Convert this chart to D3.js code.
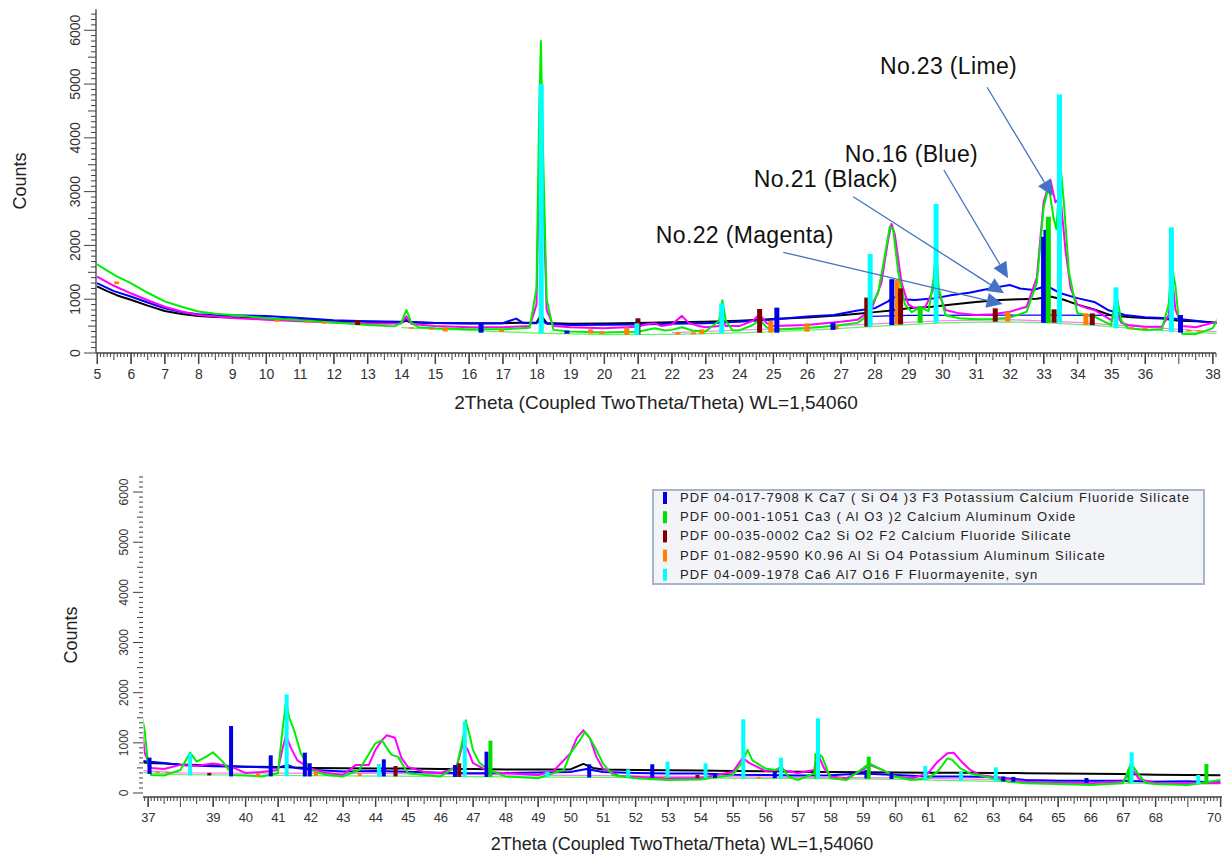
<!DOCTYPE html>
<html>
<head>
<meta charset="utf-8">
<script src="https://cdn.jsdelivr.net/npm/d3@7"></script>
<style>
  body { margin: 0; background: #fff; }
  svg { display: block; font-family: Arial, "Liberation Sans", sans-serif; }
</style>
</head>
<body>
<svg id="chart" width="1223" height="854"></svg>
<script>
// ---- Measured scans: [2Theta, counts] ----
const scanNo21Black = [[5,1240],[5.3,1150],[5.6,1070],[6,990],[6.5,880],[7,780],[7.5,725],[8,690],[8.5,670],[9,660],[10,640],[11,615],[12,595],[13,580],[14,570],[14.15,600],[14.3,565],[15,560],[16,555],[17,555],[18,565],[18.13,700],[18.3,560],[19,545],[20,550],[21,560],[22,570],[23,580],[24,600],[25,630],[26,660],[27,700],[27.5,730],[28,760],[28.5,790],[29,830],[29.7,860],[30.3,900],[31,950],[31.7,985],[32.3,1000],[32.8,1010],[33.2,1050],[33.6,990],[34,900],[34.5,810],[35,700],[35.5,670],[36,650],[36.5,640],[37,600],[37.5,590],[38,570],[39,550],[40,525],[41,520],[42,500],[43,492],[44,490],[45,490],[46,480],[47,480],[48,470],[49,470],[50,470],[50.4,580],[50.7,500],[51,470],[52,460],[53,455],[54,450],[55,440],[56,435],[57,425],[58,420],[59,415],[60,410],[61,405],[62,405],[63,400],[64,395],[65,390],[66,385],[67,380],[68,365],[69,360],[70,355]];

const scanNo16Blue = [[5,1300],[5.5,1150],[6,1050],[6.5,940],[7,830],[7.5,760],[8,720],[8.5,705],[9,700],[10,690],[11,650],[12,610],[13,590],[14,580],[14.1,640],[14.25,580],[15,560],[16,550],[17,555],[17.4,640],[17.6,560],[18,555],[18.13,620],[18.3,545],[19,520],[20,525],[21,530],[22,545],[23,555],[24,580],[25,625],[26,680],[26.8,706],[27.5,790],[28,830],[28.4,960],[28.55,1040],[28.8,1000],[29.2,985],[29.8,1020],[30.3,1080],[30.8,1120],[31.2,1170],[31.6,1220],[32,1265],[32.3,1200],[32.7,1170],[33.1,1250],[33.5,1110],[34,1020],[34.5,950],[34.9,800],[35.4,705],[36,665],[36.5,650],[37,630],[37.5,600],[38,560],[39,535],[40,525],[41,505],[41.3,560],[41.5,505],[42,465],[43,430],[44,440],[45,425],[46,405],[47,395],[48,400],[49,410],[50,420],[50.5,480],[51,420],[52,400],[53,390],[54,390],[55,365],[56,360],[57,350],[58,355],[59,390],[60,360],[61,330],[62,330],[63,320],[64,260],[65,245],[66,245],[67,245],[68,225],[69,235],[70,210]];

const scanNo22Magenta = [[5,1420],[5.5,1250],[6,1110],[6.5,980],[7,860],[7.5,770],[8,706],[8.5,680],[9,650],[10,620],[11,590],[12,565],[13,545],[14,550],[14.15,680],[14.3,540],[15,500],[16,477],[17,480],[17.8,500],[18.0,900],[18.08,3500],[18.13,5100],[18.2,3000],[18.3,800],[18.5,500],[19,477],[20,460],[21,490],[21.3,540],[21.5,550],[21.7,500],[22,530],[22.3,690],[22.5,560],[22.8,500],[23,477],[23.4,500],[23.5,600],[23.6,500],[24,500],[24.4,600],[24.6,720],[24.8,560],[25,500],[26,520],[27,580],[27.5,620],[27.9,800],[28.2,1300],[28.4,2100],[28.5,2400],[28.6,2200],[28.8,1300],[29,900],[29.2,830],[29.5,850],[29.75,1200],[29.82,1600],[29.9,1100],[30.1,800],[30.5,737],[31,706],[31.5,720],[32,768],[32.5,861],[32.8,1400],[33.0,2800],[33.2,3220],[33.35,2800],[33.5,2900],[33.65,1900],[33.8,1200],[34,900],[34.3,830],[34.5,800],[35,613],[35.15,750],[35.3,560],[35.5,520],[36,489],[36.5,489],[36.7,700],[36.8,1400],[36.9,800],[37.1,500],[37.5,480],[38,560],[38.5,540],[39,590],[39.5,540],[40,400],[40.5,420],[41,460],[41.15,900],[41.25,1150],[41.4,900],[41.6,650],[42,490],[42.5,400],[43,360],[43.4,560],[43.8,560],[44,860],[44.2,1050],[44.35,1150],[44.6,1100],[44.8,700],[45,520],[45.5,420],[46,395],[46.5,520],[46.7,1000],[46.85,850],[47,600],[47.5,420],[48,395],[49,360],[49.5,450],[50,790],[50.2,1100],[50.4,1250],[50.6,1100],[50.8,720],[51,490],[51.5,340],[52,325],[53,295],[54,300],[55,420],[55.3,700],[55.5,600],[56,440],[56.5,460],[57,400],[57.5,460],[57.6,800],[57.8,500],[58,330],[58.5,295],[59,460],[59.2,560],[59.6,460],[60,330],[60.5,295],[61,390],[61.3,625],[61.6,790],[61.8,800],[62,650],[62.3,460],[62.6,360],[63,325],[63.5,275],[64,225],[65,205],[66,195],[67,230],[67.3,460],[67.5,280],[68,195],[69,195],[70,200]];

const scanNo23Lime = [[5,1650],[5.3,1530],[5.6,1420],[6,1300],[6.5,1120],[7,960],[7.5,860],[8,770],[8.5,730],[9,705],[10,645],[11,610],[12,565],[13,520],[13.8,495],[14.0,560],[14.15,800],[14.3,560],[14.5,480],[15,460],[16,440],[17,440],[17.8,470],[18.0,1200],[18.08,4500],[18.13,5800],[18.2,3600],[18.3,1000],[18.5,430],[19,400],[20,380],[21,396],[21.5,460],[21.8,420],[22,430],[22.3,480],[22.6,420],[23,400],[23.4,600],[23.5,980],[23.6,600],[23.8,420],[24,420],[24.4,520],[24.6,620],[24.8,480],[25,430],[26,460],[27,520],[27.5,560],[27.8,700],[27.9,900],[28.1,1100],[28.3,1800],[28.45,2350],[28.55,2300],[28.7,1500],[28.9,900],[29.1,760],[29.35,850],[29.6,780],[29.75,1400],[29.82,1950],[29.9,1200],[30.1,700],[30.5,645],[31,626],[31.5,630],[32,657],[32.5,768],[32.8,1300],[33.0,2700],[33.15,3100],[33.3,2500],[33.38,2300],[33.5,3500],[33.6,2800],[33.75,1500],[34,740],[34.5,675],[35,520],[35.15,1100],[35.3,600],[35.5,459],[36,428],[36.5,440],[36.7,900],[36.78,1650],[36.9,1250],[37.0,600],[37.1,360],[37.5,350],[38,458],[38.3,804],[38.5,625],[38.8,724],[39,811],[39.3,625],[39.6,360],[40,350],[40.5,330],[41,392],[41.15,1300],[41.25,1820],[41.35,1500],[41.5,1250],[41.7,800],[42,458],[42.5,360],[43,330],[43.5,458],[44.0,990],[44.2,1050],[44.35,900],[44.5,760],[44.7,720],[45,392],[46,330],[46.5,525],[46.7,1100],[46.78,1450],[46.9,1150],[47.0,860],[47.2,600],[47.5,460],[48,330],[49,295],[49.8,460],[50,790],[50.3,1060],[50.45,1220],[50.6,1090],[50.8,860],[51,590],[51.3,360],[52,295],[53,260],[54,270],[55,360],[55.3,630],[55.45,860],[55.6,650],[56,490],[56.3,460],[56.5,525],[56.7,330],[57,260],[57.5,390],[57.6,790],[57.75,720],[58,295],[58.5,260],[59,490],[59.2,590],[59.5,490],[60,330],[60.5,260],[61,290],[61.3,425],[61.6,690],[61.75,660],[62,490],[62.3,390],[63,295],[63.5,226],[64,193],[65,180],[66,160],[67,193],[67.25,590],[67.45,400],[67.7,200],[68,180],[69,160],[69.6,220],[70,260]];

// ---- Fitted backgrounds: [2Theta, counts] ----
const backgroundLime = [[14,470],[16,420],[18,370],[20,340],[22,345],[24,375],[26,420],[28,495],[30,560],[31.5,580],[33,565],[34.5,515],[36,440],[37,400],[38,365],[42,345],[47,325],[52,305],[57,290],[60,270],[63,230],[67,195],[70,180]];
const backgroundMagenta = [[22,380],[26,470],[28,540],[30,600],[32,620],[34,570],[36,480],[38,400],[44,390],[50,350],[55,320],[60,300],[65,250],[70,220]];
const backgroundBlue = [[27.9,680],[29,700],[33,706],[35,700]];

// ---- Reference patterns (sticks): [2Theta, base counts, top counts] ----
const sticksKCa7 = [[16.36,378,539],[18.9,360,415],[25.11,378,843],[26.77,430,564],[28.51,520,1372],[33.0,563,2160],[33.07,563,2290],[37.05,380,706],[39.56,330,1335],[40.78,330,751],[41.83,330,804],[41.98,330,592],[44.26,330,671],[46.45,320,558],[47.42,320,824],[50.58,310,572],[52.52,305,572],[54.45,300,392],[56.29,295,420],[59.11,290,458],[59.88,280,400],[63.32,230,330],[63.63,225,320],[65.88,200,300]];
const sticksCa3Al2O6 = [[29.35,560,861],[33.14,563,2534],[47.54,320,1043],[57.57,290,791],[59.18,285,724],[67.2,195,480],[69.57,180,578]];
const sticksCa2SiO2F2 = [[12.71,520,613],[21.0,340,645],[24.6,378,818],[27.77,489,1030],[28.77,530,1202],[31.57,582,830],[33.31,563,812],[34.44,520,737],[38.89,350,400],[44.62,330,538],[46.58,320,592],[53.91,300,359]];
const sticksKAlSiO4 = [[5.58,1280,1330],[10.32,580,615],[11.25,560,595],[11.72,545,580],[14.3,450,480],[14.9,430,460],[15.3,400,477],[16.97,390,430],[19.6,360,440],[19.93,350,400],[20.67,335,477],[22.18,340,380],[22.64,345,385],[22.89,350,440],[24.93,378,595],[26.0,396,552],[26.86,440,520],[28.67,530,1357],[31.94,582,768],[34.25,520,737],[35.6,450,480],[36.0,440,470],[37.3,400,430],[37.6,395,425],[40.39,330,392],[42.17,340,425],[43.52,335,392],[52.9,300,340],[55.8,290,320],[58.3,285,320]];
const sticksMayenite = [[18.14,366,5000],[20.97,335,552],[23.48,366,923],[27.87,489,1840],[29.82,563,2770],[33.47,563,4808],[35.14,459,1221],[36.78,396,2336],[38.3,350,791],[41.27,335,1967],[44.11,330,578],[46.75,320,1421],[49.29,315,425],[51.78,310,472],[52.99,305,625],[54.16,300,592],[55.32,295,1469],[56.48,290,704],[57.62,290,1489],[60.92,260,538],[62.02,245,425],[63.09,226,512],[67.27,195,811],[69.32,180,359]];

// ---- Legend entries ----
const legendLabels = [
  "PDF 04-017-7908 K Ca7 ( Si O4 )3 F3 Potassium Calcium Fluoride Silicate",
  "PDF 00-001-1051 Ca3 ( Al O3 )2 Calcium Aluminum Oxide",
  "PDF 00-035-0002 Ca2 Si O2 F2 Calcium Fluoride Silicate",
  "PDF 01-082-9590 K0.96 Al Si O4 Potassium Aluminum Silicate",
  "PDF 04-009-1978 Ca6 Al7 O16 F Fluormayenite, syn"
];

// ---- Axis ticks ----
const xTickLabelsTop = [5,6,7,8,9,10,11,12,13,14,15,16,17,18,19,20,21,22,23,24,25,26,27,28,29,30,31,32,33,34,35,36,38];
const xTickLabelsBottom = [37,39,40,41,42,43,44,45,46,47,48,49,50,51,52,53,54,55,56,57,58,59,60,61,62,63,64,65,66,67,68,70];
const yTickLabels = [0,1000,2000,3000,4000,5000,6000];

// ---- Annotations (data coordinates of the top panel) ----
const annotationText = ["No.23 (Lime)", "No.16 (Blue)", "No.21 (Black)", "No.22 (Magenta)"];
const annotationTextAt = [[28.16,5188],[27.12,3551],[24.43,3087],[21.53,2045]];
const annotationFrom = [[31.33,4941],[30.05,3403],[27.37,2906],[25.3,1872]];
const annotationTo = [[33.27,2919],[31.95,1389],[31.83,1110],[31.79,911]];

// ---- Styles ----
const scans = [
  {data: scanNo21Black, color: "#000000"},
  {data: scanNo16Blue, color: "#0000ff"},
  {data: scanNo22Magenta, color: "#ff00ff"},
  {data: scanNo23Lime, color: "#00ee00"}
];
const stickSets = [
  {data: sticksKAlSiO4, color: "#ff8000"},
  {data: sticksCa2SiO2F2, color: "#800000"},
  {data: sticksKCa7, color: "#0000e6"},
  {data: sticksCa3Al2O6, color: "#00e000"},
  {data: sticksMayenite, color: "#00ffff"}
];
const legendColors = ["#0000e6", "#00e000", "#800000", "#ff8000", "#00ffff"];

const svg = d3.select("#chart");
const axisColor = "#404040";
const labelColor = "#333";
const chartWidth = 1223;

const panels = [
  {id: "top", xDom: [4.97, 38.1], xRange: [96, 1216], yDom: [0, 6390], yRange: [353, 9.3],
   stickW: 5, xLabels: xTickLabelsTop, yAxisLine: true, tickFont: 14, yLabelOff: 16,
   xTickLen: 11, xPad: 5, yTickLen: 12, yMinorLen: 5, yMidLen: 8,
   title: {x: 656, y: 409, size: 19}, counts: {x: 26, y: 181}},
  {id: "bottom", xDom: [36.85, 70.05], xRange: [143, 1222], yDom: [-80, 6300], yRange: [797, 477],
   stickW: 4, xLabels: xTickLabelsBottom, yAxisLine: false, tickFont: 13, yLabelOff: 15,
   xTickLen: 10, xPad: 6, yTickLen: 10, yMinorLen: 4, yMidLen: 6,
   title: {x: 682, y: 850, size: 18}, counts: {x: 77, y: 635}}
];

panels.forEach(p => {
  const x = d3.scaleLinear().domain(p.xDom).range(p.xRange);
  const y = d3.scaleLinear().domain(p.yDom).range(p.yRange);
  p.x = x; p.y = y;
  const g = svg.append("g").attr("class", "panel-" + p.id);

  const clipId = "clip-" + p.id;
  svg.append("clipPath").attr("id", clipId).append("rect")
    .attr("x", p.xRange[0] + 0.5).attr("y", p.yRange[1])
    .attr("width", p.xRange[1] - p.xRange[0]).attr("height", p.yRange[0] - p.yRange[1]);

  const plot = g.append("g").attr("clip-path", `url(#${clipId})`);
  const line = d3.line().x(d => x(d[0])).y(d => y(d[1]));

  // fitted backgrounds
  [[backgroundLime, "#66ee66"], [backgroundMagenta, "#ff77ff"], [backgroundBlue, "#0000ff"]].forEach(([bg, c]) => {
    plot.append("path").datum(bg).attr("d", line).attr("fill", "none")
      .attr("stroke", c).attr("stroke-width", 1.2);
  });

  // measured scans
  scans.forEach(s => {
    plot.append("path").datum(s.data).attr("d", line).attr("fill", "none")
      .attr("stroke", s.color).attr("stroke-width", 2).attr("stroke-linejoin", "round");
  });

  // reference sticks
  stickSets.forEach(s => {
    plot.selectAll(null).data(s.data).join("rect")
      .attr("x", d => x(d[0]) - p.stickW / 2)
      .attr("y", d => y(d[2]))
      .attr("width", p.stickW)
      .attr("height", d => y(d[1]) - y(d[2]))
      .attr("fill", s.color);
  });

  // x axis with minor ticks every 0.1
  const minor = d3.range(Math.ceil(p.xDom[0] * 10), Math.floor(p.xDom[1] * 10) + 1).map(v => v / 10);
  const xAxisG = g.append("g").attr("transform", `translate(0,${p.yRange[0]})`);
  xAxisG.selectAll("line.minor").data(minor).join("line")
    .attr("x1", d => x(d)).attr("x2", d => x(d)).attr("y1", 0)
    .attr("y2", d => Math.abs(d - Math.round(d)) < 1e-6 ? p.xTickLen : (Math.abs(d * 2 - Math.round(d * 2)) < 1e-6 ? 7 : 4))
    .attr("stroke", axisColor).attr("stroke-width", 1);
  xAxisG.append("line").attr("x1", p.xRange[0]).attr("x2", p.xRange[1])
    .attr("y1", 0).attr("y2", 0).attr("stroke", axisColor).attr("stroke-width", 1.3);
  const xAxis = d3.axisBottom(x).tickValues(p.xLabels).tickFormat(d3.format("d"))
    .tickSize(p.xTickLen).tickPadding(p.xPad);
  const xa = g.append("g").attr("transform", `translate(0,${p.yRange[0]})`).call(xAxis);
  xa.select(".domain").remove();
  xa.selectAll("line").attr("stroke", axisColor);
  xa.selectAll("text").attr("fill", labelColor).attr("font-size", p.tickFont)
    .attr("font-family", "Arial, 'Liberation Sans', sans-serif");
  // keep the last label inside the page
  xa.selectAll(".tick").filter(d => x(d) > chartWidth - 10).select("text")
    .attr("text-anchor", "end").attr("x", d => chartWidth - 2 - x(d));

  // y axis with minor ticks every 100 counts
  const yMinor = d3.range(0, 6301, 100);
  const yAxisG = g.append("g").attr("transform", `translate(${p.xRange[0]},0)`);
  yAxisG.selectAll("line.minor").data(yMinor).join("line")
    .attr("y1", d => y(d)).attr("y2", d => y(d)).attr("x1", 0)
    .attr("x2", d => d % 1000 === 0 ? -p.yTickLen : (d % 500 === 0 ? -p.yMidLen : -p.yMinorLen))
    .attr("stroke", axisColor).attr("stroke-width", 1);
  if (p.yAxisLine) {
    yAxisG.append("line").attr("x1", 0).attr("x2", 0)
      .attr("y1", p.yRange[1]).attr("y2", p.yRange[0])
      .attr("stroke", axisColor).attr("stroke-width", 1.3);
  }
  yAxisG.selectAll("text.ytick").data(yTickLabels).join("text")
    .attr("class", "ytick")
    .attr("transform", d => `translate(${-p.yLabelOff},${y(d)}) rotate(-90)`)
    .attr("text-anchor", "middle")
    .attr("font-size", p.tickFont - (p.id === "bottom" ? 1 : 0))
    .attr("fill", labelColor)
    .text(d => d);

  // titles
  g.append("text").attr("x", p.title.x).attr("y", p.title.y)
    .attr("text-anchor", "middle").attr("font-size", p.title.size).attr("fill", "#222")
    .text("2Theta (Coupled TwoTheta/Theta) WL=1,54060");
  g.append("text").attr("transform", `translate(${p.counts.x},${p.counts.y}) rotate(-90)`)
    .attr("text-anchor", "middle").attr("font-size", 18).attr("fill", "#222")
    .text("Counts");
});

// ---- Annotations on the top panel ----
const topPanel = panels[0];
const ann = svg.append("g").attr("class", "annotations");
annotationText.forEach((t, i) => {
  ann.append("text")
    .attr("x", topPanel.x(annotationTextAt[i][0])).attr("y", topPanel.y(annotationTextAt[i][1]))
    .attr("font-size", 23).attr("letter-spacing", 0.35).attr("fill", "#111").text(t);
  const x1 = topPanel.x(annotationFrom[i][0]), y1 = topPanel.y(annotationFrom[i][1]);
  const x2 = topPanel.x(annotationTo[i][0]), y2 = topPanel.y(annotationTo[i][1]);
  const len = Math.hypot(x2 - x1, y2 - y1);
  const ux = (x2 - x1) / len, uy = (y2 - y1) / len;
  const headL = 16, headW = 7.5;
  const bx = x2 - ux * headL, by = y2 - uy * headL;
  ann.append("line").attr("x1", x1).attr("y1", y1).attr("x2", bx).attr("y2", by)
    .attr("stroke", "#4472c4").attr("stroke-width", 1.3);
  ann.append("polygon")
    .attr("points", [[x2, y2], [bx - uy * headW, by + ux * headW], [bx + uy * headW, by - ux * headW]].map(q => q.join(",")).join(" "))
    .attr("fill", "#4472c4");
});

// ---- Legend ----
const lg = svg.append("g").attr("class", "legend").attr("transform", "translate(653,490)");
lg.append("rect").attr("width", 551).attr("height", 94)
  .attr("fill", "#f3f4f7").attr("stroke", "#a8b4c8").attr("stroke-width", 2);
legendLabels.forEach((t, i) => {
  const cy = 7.5 + i * 19.2;
  lg.append("rect").attr("x", 10).attr("y", cy - 5.5).attr("width", 4).attr("height", 12)
    .attr("fill", legendColors[i]);
  lg.append("text").attr("x", 27).attr("y", cy + 4.5)
    .attr("font-size", 13).attr("letter-spacing", 1.1).attr("fill", "#222").text(t);
});
</script>
</body>
</html>
